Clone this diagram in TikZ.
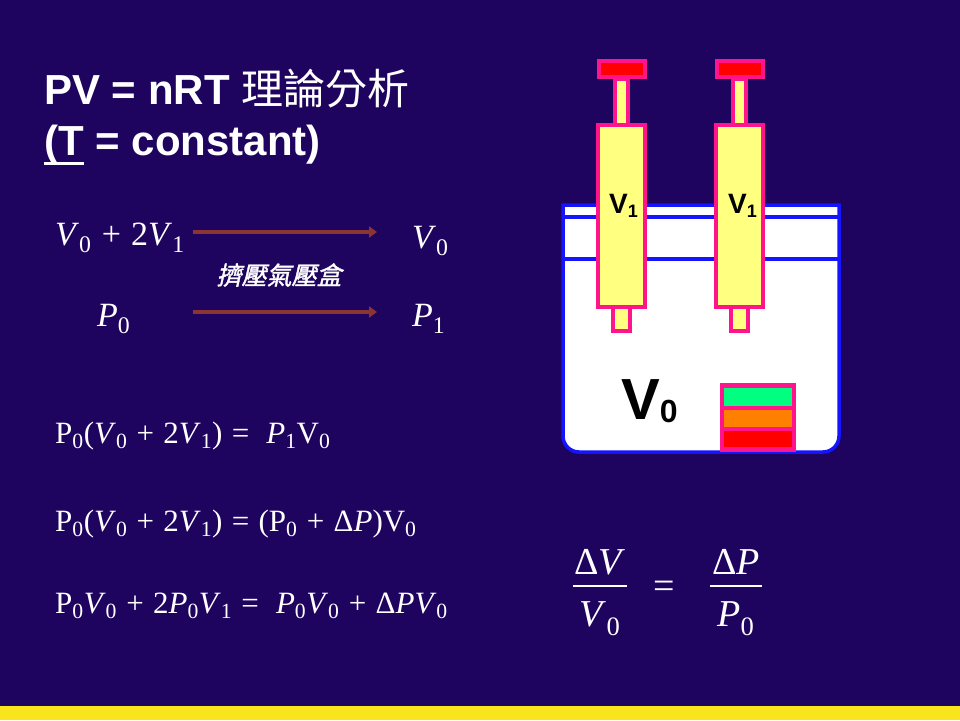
\documentclass[tikz,border=0pt]{standalone}
\usepackage{fontspec}
\usetikzlibrary{arrows.meta}
\setmainfont{Liberation Serif}
\newfontfamily\arial{Liberation Sans}
\newfontfamily\cjk{Noto Sans CJK TC}
\newfontfamily\cjkit[FakeSlant=0.22,FakeBold=1.5]{Noto Sans CJK TC}
\newcommand\lo[1]{\textsubscript{#1}}
\newcommand\iv{\textit{V}}
\newcommand\ip{\textit{P}}
\newcommand\op[1]{\hspace{0.3em}#1\hspace{0.3em}}
\definecolor{bg}{RGB}{30,4,94}
\definecolor{stripe}{RGB}{248,229,30}
\definecolor{arrowbrown}{RGB}{140,52,52}
\definecolor{boxblue}{RGB}{20,20,255}
\definecolor{synpink}{RGB}{255,20,140}
\definecolor{synyellow}{RGB}{255,255,128}
\definecolor{gaugegreen}{RGB}{0,255,128}
\definecolor{gaugeorange}{RGB}{255,128,0}
\begin{document}
\begin{tikzpicture}[x=1pt,y=-1pt,
  txt/.style={text=white,inner sep=0pt,anchor=base west},
  eqA/.style={txt,font=\fontsize{34}{40}\selectfont},
  eqB/.style={txt,font=\fontsize{31}{36}\selectfont},
  fr/.style={text=white,inner sep=0pt,anchor=base,font=\fontsize{38}{44}\selectfont},
  fbar/.style={draw=white,line width=2.5pt},
  arr/.style={draw=arrowbrown,line width=3.5pt,-{Triangle[length=8pt,width=11pt]}},
  synpart/.style={draw=synpink,line width=4pt,fill=synyellow},
  syncap/.style={draw=synpink,line width=4pt,fill=red},
  lidline/.style={draw=boxblue,line width=3.5pt},
  vlabel/.style={inner sep=0pt,text=black,font=\arial\bfseries}]
\useasboundingbox (0,0) rectangle (960,720);
\fill[bg] (0,0) rectangle (960,720);
\fill[stripe] (0,706) rectangle (960,720);

% title
\node[txt,font=\fontsize{42}{50}\selectfont] (title1) at (44,104) {{\arial\bfseries PV = nRT }{\cjk 理論分析}};
\node[txt,font=\fontsize{42}{50}\selectfont\arial\bfseries] (title2) at (44,155) {\rlap{\rule[-10pt]{0.944em}{3pt}}(T = constant)};

% top relations
\node[eqA] (lhs1) at (55,245) {\iv\lo0\op+2\iv\lo1};
\node[eqA] (rhs1) at (412,248) {\iv\lo0};
\node[eqA] (lhs2) at (97,326) {\ip\lo0};
\node[eqA] (rhs2) at (412,326) {\ip\lo1};
\coordinate (a1s) at (193,232);
\coordinate (a1e) at (377,232);
\coordinate (a2s) at (193,312);
\coordinate (a2e) at (377,312);
\draw[arr] (a1s) -- (a1e);
\draw[arr] (a2s) -- (a2e);
\node[text=white,inner sep=0pt,font=\fontsize{25}{30}\selectfont\cjkit] (lab) at (279,275) {擠壓氣壓盒};

% equations
\node[eqB] (eq1) at (55,443) {P\lo0(\iv\lo0\op+2\iv\lo1)\op=\ \ip\lo1V\lo0};
\node[eqB] (eq2) at (55,531) {P\lo0(\iv\lo0\op+2\iv\lo1)\op=(P\lo0\op+Δ\ip)V\lo0};
\node[eqB] (eq3) at (55,613) {P\lo0\iv\lo0\op+2\ip\lo0\iv\lo1\op=\ \ip\lo0\iv\lo0\op+Δ\ip\iv\lo0};

% fraction
\node[fr] (num1) at (600,574) {Δ\iv};
\coordinate (b1s) at (573,586);
\coordinate (b1e) at (627,586);
\draw[fbar] (b1s) -- (b1e);
\node[fr] (den1) at (600,626) {\iv\lo0};
\node[fr] (freq) at (664,598) {=};
\node[fr] (num2) at (736,574) {Δ\ip};
\coordinate (b2s) at (710,586);
\coordinate (b2e) at (762,586);
\draw[fbar] (b2s) -- (b2e);
\node[fr] (den2) at (736,626) {\ip\lo0};

% box
\draw[draw=boxblue,line width=3.5pt,fill=white]
  (563,205) -- (563,436) arc[start angle=180,end angle=90,radius=16]
  -- (823,452) arc[start angle=90,end angle=0,radius=16]
  -- (839,205) -- cycle;
\draw[lidline] (563,217) -- (839,217);
\draw[lidline] (563,259) -- (839,259);

% syringes
\foreach \dx in {0,118}{
  \begin{scope}[xshift=\dx]
    \draw[synpart] (615,79) rectangle (628,125);
    \draw[syncap] (599,61) rectangle (645,77);
    \draw[synpart] (613,307) rectangle (630,331);
    \draw[synpart] (598,125) rectangle (645,307);
  \end{scope}
}
\node[vlabel,anchor=base west] (v1a) at (609,213) {\fontsize{28}{30}\selectfont V\raisebox{-4pt}{\fontsize{18}{20}\selectfont 1}};
\node[vlabel,anchor=base west] (v1b) at (728,213) {\fontsize{28}{30}\selectfont V\raisebox{-4pt}{\fontsize{18}{20}\selectfont 1}};
\node[vlabel,anchor=base west] (v0) at (621,419) {\fontsize{58}{60}\selectfont V\raisebox{-3pt}{\fontsize{32}{36}\selectfont 0}};

% gauge
\fill[synpink] (720,383) rectangle (796,452);
\fill[gaugegreen] (724,388) rectangle (792,406);
\fill[gaugeorange] (724,410) rectangle (792,427);
\fill[red] (724,431) rectangle (792,447);
\end{tikzpicture}
\end{document}
